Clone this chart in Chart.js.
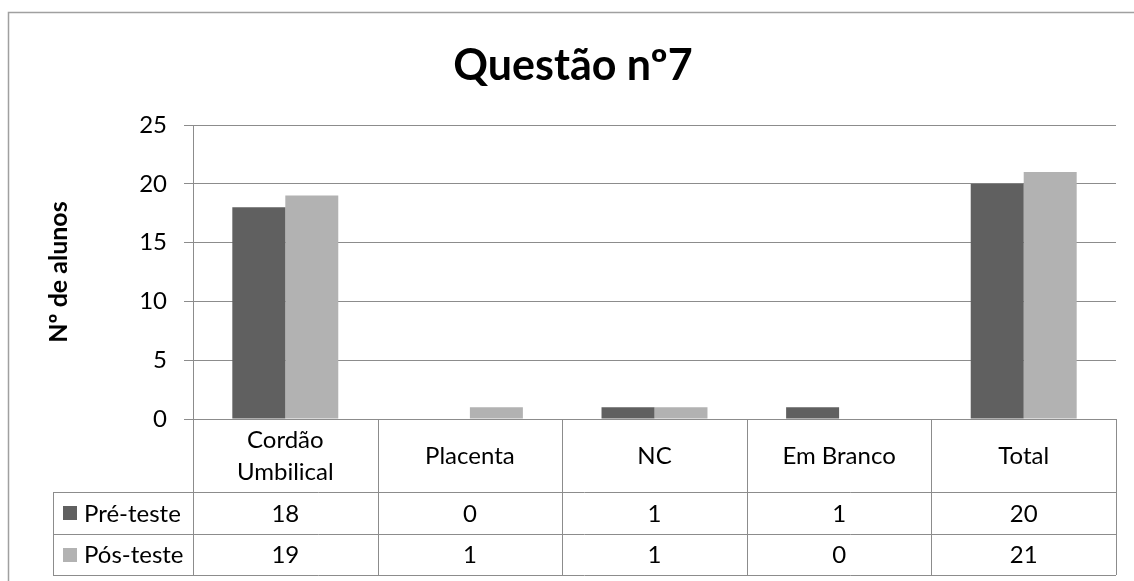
<!DOCTYPE html>
<html>
<head>
<meta charset="utf-8">
<script src="https://cdn.jsdelivr.net/npm/chart.js@4.4.0/dist/chart.umd.min.js"></script>
<style>
    html, body { margin: 0; padding: 0; background: #ffffff; }
    #caixa { position: relative; width: 1134px; height: 581px; }
</style>
</head>
<body>
<div id="caixa"><canvas id="barras"></canvas></div>
<script>
// dados do grafico
var categorias = [['Cordão', 'Umbilical'], 'Placenta', 'NC', 'Em Branco', 'Total'];
var series = ['Pré-teste', 'Pós-teste'];
var preTeste = [18, 0, 1, 1, 20];
var posTeste = [19, 1, 1, 0, 21];
var ticksY = [0, 5, 10, 15, 20, 25];

var corEscura = '#606060';
var corClara = '#b2b2b2';
var corLinha = '#8c8c8c';
var fonte = 'Lato, "Open Sans", sans-serif';

document.addEventListener('DOMContentLoaded', f_principal);

function f_principal() {
    graficoBarras();
}

// desenha a moldura e a tabela de dados por baixo do grafico
var tabelaPlugin = {
    id: 'tabela',
    afterDraw: function (chart) {
        var ctx = chart.ctx;
        var area = chart.chartArea;
        var xs = chart.scales.x;
        var n = categorias.length;
        var larg = (area.right - area.left) / n;
        var y0 = area.bottom;
        var y1 = y0 + 73;
        var y2 = y1 + 42;
        var y3 = y2 + 41;
        var xl = 53;

        ctx.save();
        // moldura exterior
        ctx.strokeStyle = '#a0a0a0';
        ctx.lineWidth = 1.5;
        ctx.beginPath();
        ctx.moveTo(8.5, 600);
        ctx.lineTo(8.5, 12.5);
        ctx.lineTo(1140, 12.5);
        ctx.stroke();

        ctx.strokeStyle = corLinha;
        ctx.lineWidth = 1;
        ctx.beginPath();
        // linhas horizontais
        ctx.moveTo(xl, y1 + 0.5); ctx.lineTo(area.right, y1 + 0.5);
        ctx.moveTo(xl, y2 + 0.5); ctx.lineTo(area.right, y2 + 0.5);
        ctx.moveTo(xl, y3 + 0.5); ctx.lineTo(area.right, y3 + 0.5);
        // linhas verticais
        ctx.moveTo(xl + 0.5, y1); ctx.lineTo(xl + 0.5, y3);
        for (var i = 0; i <= n; i++) {
            var x = Math.round(area.left + i * larg) + 0.5;
            ctx.moveTo(x, y0); ctx.lineTo(x, y3);
        }
        ctx.stroke();

        ctx.fillStyle = '#000000';
        ctx.font = '24px ' + fonte;
        ctx.textAlign = 'center';
        ctx.textBaseline = 'middle';
        for (var j = 0; j < n; j++) {
            var cx = xs.getPixelForValue(j);
            var rot = categorias[j];
            if (Array.isArray(rot)) {
                ctx.fillText(rot[0], cx, (y0 + y1) / 2 - 15);
                ctx.fillText(rot[1], cx, (y0 + y1) / 2 + 17);
            } else {
                ctx.fillText(rot, cx, (y0 + y1) / 2 + 1);
            }
            ctx.fillText(String(preTeste[j]), cx, (y1 + y2) / 2 + 1);
            ctx.fillText(String(posTeste[j]), cx, (y2 + y3) / 2 + 1);
        }

        // legenda dentro da tabela
        ctx.textAlign = 'left';
        ctx.fillStyle = corEscura;
        ctx.fillRect(63, Math.round((y1 + y2) / 2) - 7, 14, 14);
        ctx.fillStyle = corClara;
        ctx.fillRect(63, Math.round((y2 + y3) / 2) - 7, 14, 14);
        ctx.fillStyle = '#000000';
        ctx.fillText(series[0], 84, (y1 + y2) / 2 + 1);
        ctx.fillText(series[1], 84, (y2 + y3) / 2 + 1);
        ctx.restore();
    }
};

function graficoBarras() {
    var data = {
        labels: categorias,
        datasets: [{
            label: series[0],
            data: preTeste,
            backgroundColor: corEscura
        }, {
            label: series[1],
            data: posTeste,
            backgroundColor: corClara
        }]
    };

    var options = {
        responsive: true,
        maintainAspectRatio: false,
        animation: false,
        layout: {
            padding: { left: 30, right: 18, top: 0, bottom: 0 }
        },
        datasets: {
            bar: { barPercentage: 1, categoryPercentage: 0.574 }
        },
        plugins: {
            legend: { display: false },
            tooltip: { enabled: false },
            title: {
                display: true,
                text: 'Questão nº7',
                color: '#000000',
                font: { family: fonte, size: 43, weight: 'bold', lineHeight: 1.2 },
                padding: { top: 40.6, bottom: 32.8 }
            }
        },
        scales: {
            x: {
                grid: { display: false },
                border: { display: false },
                ticks: { display: false },
                afterFit: function (scale) { scale.height = 581 - 419; }
            },
            y: {
                min: 0,
                max: 25,
                afterBuildTicks: function (scale) {
                    scale.ticks = ticksY.map(function (v) { return { value: v }; });
                },
                afterFit: function (scale) { scale.width = 163; },
                grid: { color: corLinha, tickLength: 9, lineWidth: 1 },
                border: { display: true, color: corLinha },
                ticks: {
                    color: '#000000',
                    padding: 17,
                    font: { family: fonte, size: 24 }
                },
                title: {
                    display: true,
                    text: 'Nº de alunos',
                    color: '#000000',
                    font: { family: fonte, size: 25, weight: 'bold', lineHeight: 1.2 },
                    padding: { top: 14 }
                }
            }
        }
    };

    var ctx = document.getElementById('barras').getContext('2d');
    var barras = new Chart(ctx, {
        type: 'bar',
        data: data,
        options: options,
        plugins: [tabelaPlugin]
    });
}
</script>
</body>
</html>
